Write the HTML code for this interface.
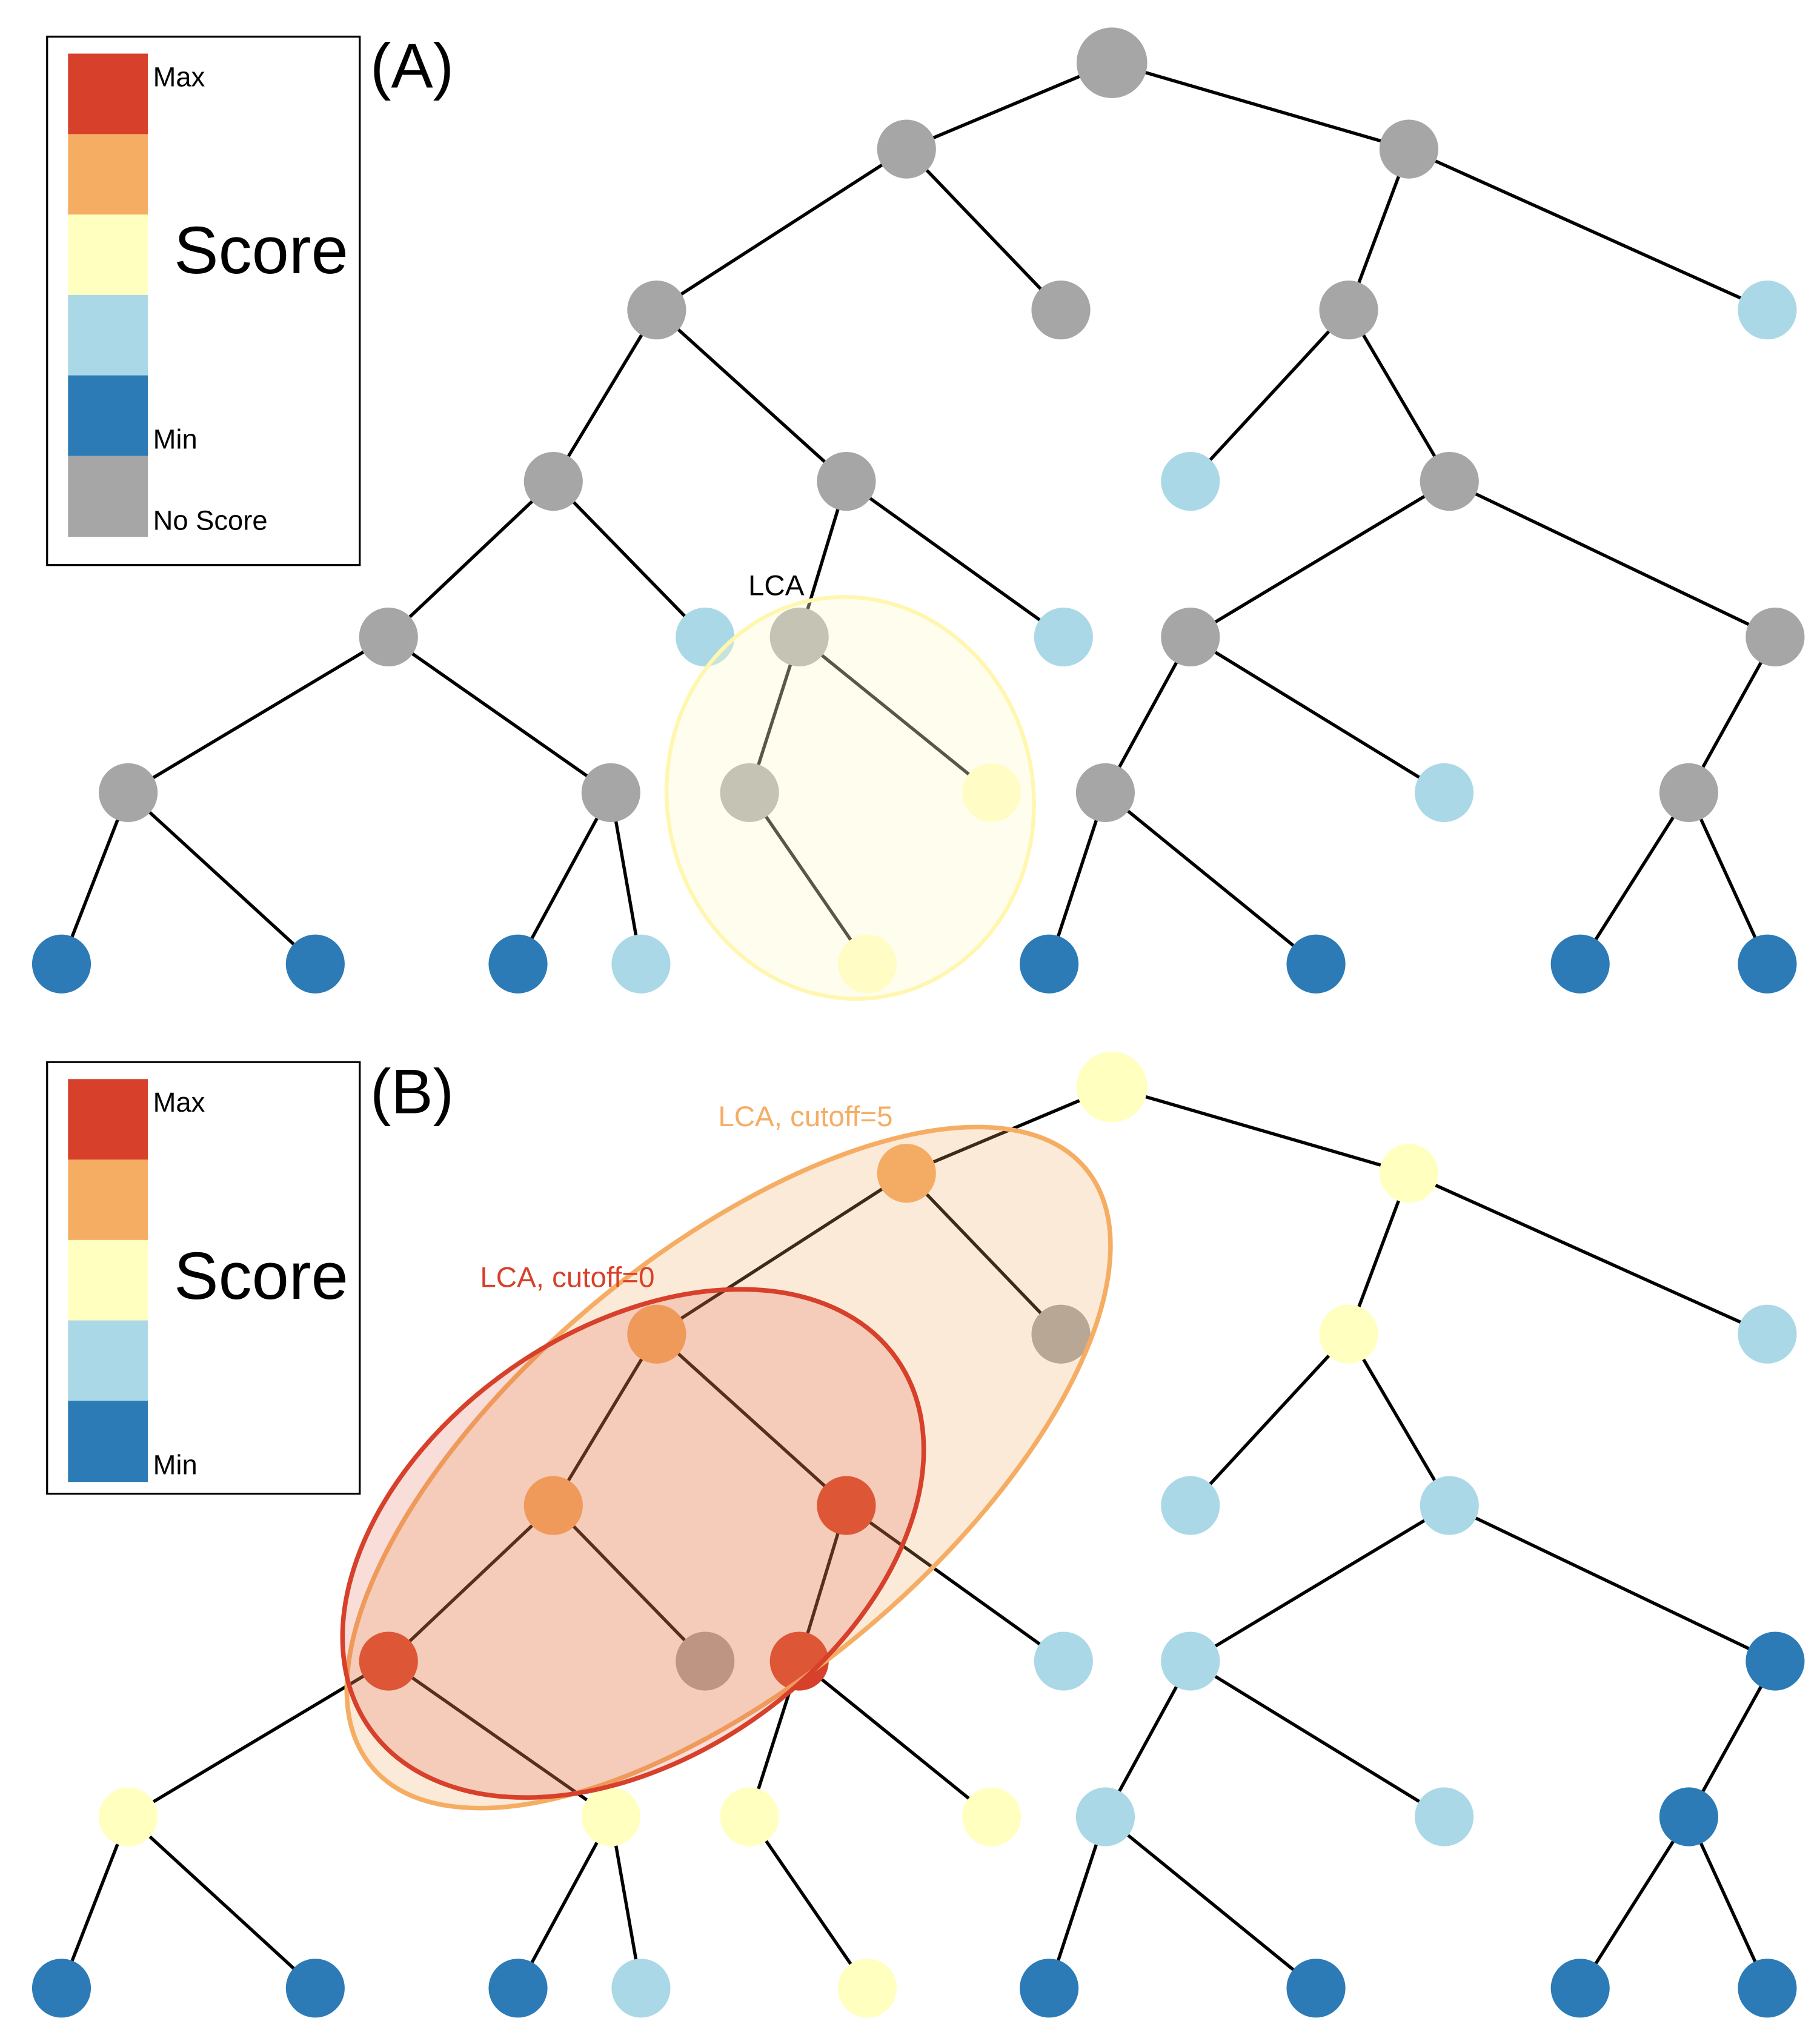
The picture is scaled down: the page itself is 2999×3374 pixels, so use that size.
<!DOCTYPE html>
<html><head><meta charset="utf-8"><style>html,body{margin:0;padding:0;background:#fff}svg{display:block}</style></head>
<body>
<svg id="chart" xmlns="http://www.w3.org/2000/svg" width="2999" height="3374" viewBox="0 0 1389 1562.7" font-family="Liberation Sans, sans-serif"></svg>
<script>
// tree node positions (x, y in panel A) and parent indices
const nodeX = [850,693,1077,502,811,1031,1351,423,647,910,1108,297,539,611,813,910,1357,98,467,573,758,845,1104,1291,47,241,396,490,663,802,1006,1208,1351];
const nodeY = [48,114,114,237,237,237,237,368,368,368,368,487,487,487,487,487,487,606,606,606,606,606,606,606,737,737,737,737,737,737,737,737,737];
const parents = [-1,0,0,1,1,2,2,3,3,5,5,7,7,8,8,10,10,11,11,13,13,15,15,16,17,17,18,18,19,21,21,23,23];
const colorsA = ['g','g','g','g','g','g','lb','g','g','lb','g','g','lb','g','lb','g','g','g','g','g','y','g','lb','g','db','db','db','lb','y','db','db','db','db'];
const colorsB = ['y','o','y','o','g','y','lb','o','r','lb','lb','r','g','r','lb','lb','db','y','y','y','y','lb','lb','db','db','db','db','lb','y','db','db','db','db'];
const palette = {r:'#d7402a',o:'#f5ad64',y:'#ffffc0',lb:'#abd8e6',db:'#2c7bb6',g:'#a6a6a6'};
const offsetB = 783;
const svg = document.getElementById('chart');
const NS = 'http://www.w3.org/2000/svg';
function mk(tag, attrs){const e=document.createElementNS(NS,tag);for(const k in attrs)e.setAttribute(k,attrs[k]);svg.appendChild(e);return e;}
function txt(x,y,s,size,fill,name){const t=mk('text',{x:x,y:y,'font-size':size,fill:fill});t.textContent=s;


return t;}
function drawTree(colors, dy, label){
  for(let i=1;i<nodeX.length;i++){const p=parents[i];
    const l=mk('line',{x1:nodeX[p],y1:nodeY[p]+dy,x2:nodeX[i],y2:nodeY[i]+dy,stroke:'#000','stroke-width':2.5});
    
    
  }
  for(let i=0;i<nodeX.length;i++){
    const c=mk('circle',{cx:nodeX[i],cy:nodeY[i]+dy,r:i===0?27:22.5,fill:palette[colors[i]]});
    
    
  }
}
function legend(dy, withGray, label){
  const n = withGray?6:5;
  const r=mk('rect',{x:36,y:28+dy,width:239,height:withGray?404:330,fill:'#fff',stroke:'#000','stroke-width':1.5});
  
  
  const cols=['r','o','y','lb','db','g'];
  for(let i=0;i<n;i++){
    const s=mk('rect',{x:52,y:41+dy+i*61.5,width:61,height:62,fill:palette[cols[i]]});
    
    
  }
  txt(117,66+dy,'Max',21,'#000',label+'-legend-max');
  txt(133,209+dy,'Score',51,'#000',label+'-legend-title');
  txt(117,343+dy,'Min',21,'#000',label+'-legend-min');
  if(withGray) txt(117,405+dy,'No Score',21,'#000',label+'-legend-noscore');
}
// Panel A
drawTree(colorsA,0,'panel-a');
let e=mk('ellipse',{cx:650,cy:610,rx:140,ry:154,fill:'rgba(255,250,205,0.35)',stroke:'#fff7b0','stroke-width':3,transform:'rotate(-10 650 610)'});


txt(572,455,'LCA',22,'#000','lca-label');
legend(0,true,'panel-a');
txt(283,67,'(A)',48,'#000','panel-a-label');
// Panel B
drawTree(colorsB,offsetB,'panel-b');
e=mk('ellipse',{cx:557,cy:1122,rx:356,ry:162,fill:'rgba(245,173,100,0.25)',stroke:'#f5ad64','stroke-width':3.5,transform:'rotate(-40 557 1122)'});


e=mk('ellipse',{cx:484,cy:1180,rx:246,ry:163,fill:'rgba(215,64,42,0.18)',stroke:'#d7402a','stroke-width':3.5,transform:'rotate(-35 484 1180)'});


txt(549,861,'LCA, cutoff=5',22,'#f5ad64','lca-cutoff5-label');
txt(367,984,'LCA, cutoff=0',22,'#d7402a','lca-cutoff0-label');
legend(784,false,'panel-b');
txt(283,851,'(B)',48,'#000','panel-b-label');
</script>
</body></html>
